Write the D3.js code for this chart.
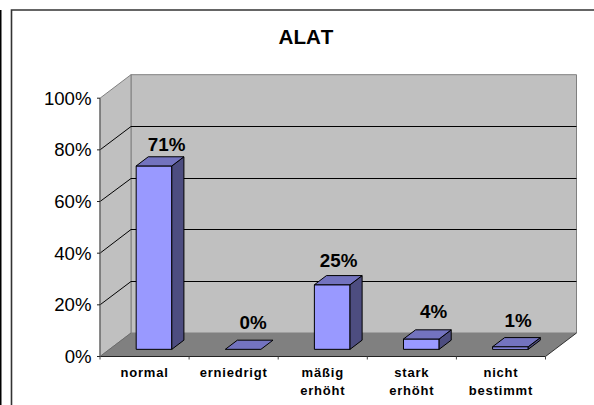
<!DOCTYPE html>
<html>
<head>
<meta charset="utf-8">
<script src="https://cdnjs.cloudflare.com/ajax/libs/d3/7.8.5/d3.min.js"></script>
<style>
html,body{margin:0;padding:0;background:#fff;overflow:hidden}
text{font-family:"Liberation Sans",Arial,sans-serif;fill:#000}
</style>
</head>
<body>
<script>
// ALAT lab results as a 3D-style column chart
const categories = [["normal"],["erniedrigt"],["mäßig","erhöht"],["stark","erhöht"],["nicht","bestimmt"]];
const values = [71,0,25,4,1];
const tickValues = [0,20,40,60,80,100];
const title = "ALAT";

const W = 594, H = 405;
const svg = d3.select("body").append("svg").attr("width",W).attr("height",H).style("display","block");

// Front plane scales; depth is applied as an oblique offset
const x = d3.scaleBand().domain(d3.range(categories.length)).range([100,545.5]).paddingInner(0).paddingOuter(0);
const y = d3.scaleLinear().domain([0,100]).range([356.5,98.2]);
const depthX = 31, depthY = -23.5;
const barWidth = x.bandwidth()*0.4;
const bar0 = 0.305, bar1 = 0.695;
const pt = (px,py,d=0) => [px+depthX*d, py+depthY*d];
const poly = pts => "M"+pts.map(p=>p.join(",")).join("L")+"Z";
const crisp = v => Math.floor(v)+0.5;

// Hand-placed value labels sit a little off the column centre
const labelShift = [[0.5,0.9],[-2,-4.4],[-5.7,-1.8],[0.3,-6],[-4.4,-4.5]];

// Page rule and chart frame
svg.append("rect").attr("x",0).attr("y",10).attr("width",1.5).attr("height",H-10).attr("fill","#000");
svg.append("path").attr("d",`M11.5,${H}V10H${W}`).attr("fill","none").attr("stroke","#333").attr("stroke-width",1.6);

const xL = x.range()[0], xR = x.range()[1], y0 = y(0), y1 = y(100);

// Walls and floor
svg.append("path").attr("d",poly([pt(xL,y0,1),pt(xR,y0,1),pt(xR,y1,1),pt(xL,y1,1)]))
  .attr("fill","#c0c0c0").attr("stroke","#808080").attr("stroke-width",1);
svg.append("path").attr("d",poly([pt(xL,y0),pt(xL,y0,1),pt(xL,y1,1),pt(xL,y1)]))
  .attr("fill","#c0c0c0").attr("stroke","#808080").attr("stroke-width",1);
svg.append("path").attr("d",poly([pt(xL,y0),pt(xR,y0),pt(xR,y0,1),pt(xL,y0,1)]))
  .attr("fill","#808080").attr("stroke","none");

// Gridlines across side and back walls
tickValues.filter(t=>t>0&&t<100).forEach(t=>{
  const a = pt(xL,y(t)), b = pt(xL,y(t),1), c = pt(xR,y(t),1);
  const by = crisp(b[1]);
  svg.append("path").attr("d",`M${a}L${b[0]},${by}L${c[0]},${by}`).attr("fill","none").attr("stroke","#000").attr("stroke-width",1);
});

// Axis lines
svg.append("path").attr("d",`M${xL},${y1}V${y0}`).attr("stroke","#666").attr("stroke-width",1.2).attr("fill","none");
svg.append("path").attr("d",`M${xL},${y0}H${xR}`).attr("stroke","#222").attr("stroke-width",1).attr("fill","none");
svg.append("path").attr("d",`M${pt(xL,y0)}L${pt(xL,y0,1)}`).attr("stroke","#666").attr("stroke-width",0.8);
svg.append("path").attr("d",`M${pt(xR,y0)}L${pt(xR,y0,1)}`).attr("stroke","#222").attr("stroke-width",0.9);

// Y axis ticks and labels
tickValues.forEach(t=>{
  svg.append("line").attr("x1",xL-3).attr("x2",xL).attr("y1",y(t)).attr("y2",y(t)).attr("stroke","#222").attr("stroke-width",1);
  svg.append("text").attr("x",91.5).attr("y",y(t)+6.6).attr("text-anchor","end")
    .attr("font-size",18.6).attr("fill","#111").text(t+"%");
});

// X axis ticks and labels
d3.range(categories.length+1).forEach(i=>{
  const tx = xL + i*x.bandwidth();
  svg.append("line").attr("x1",tx).attr("x2",tx).attr("y1",y0).attr("y2",y0+3).attr("stroke","#444").attr("stroke-width",1);
});
categories.forEach((lines,i)=>{
  lines.forEach((s,j)=>{
    svg.append("text").attr("x",x(i)+x.bandwidth()/2).attr("y",376.8+j*18)
      .attr("text-anchor","middle").attr("font-size",13).attr("font-weight","bold")
      .attr("letter-spacing",0.8).attr("fill","#222").text(s);
  });
});

// Columns with front, top and side faces
values.forEach((v,i)=>{
  const l = x(i)+(x.bandwidth()-barWidth)/2, r = l+barWidth;
  const g = svg.append("g").attr("stroke","#000").attr("stroke-width",1).attr("stroke-linejoin","round");
  const yb = y(0), yt = y(v);
  if (v>0) g.append("path").attr("d",poly([pt(l,yb,bar0),pt(r,yb,bar0),pt(r,yt,bar0),pt(l,yt,bar0)])).attr("fill","#9999ff");
  if (v>0) g.append("path").attr("d",poly([pt(r,yb,bar0),pt(r,yb,bar1),pt(r,yt,bar1),pt(r,yt,bar0)])).attr("fill","#4d4d80");
  g.append("path").attr("d",poly([pt(l,yt,bar0),pt(r,yt,bar0),pt(r,yt,bar1),pt(l,yt,bar1)])).attr("fill","#7373bf");
  // Value label above the column
  const top = pt((l+r)/2,yt,bar1);
  svg.append("text").attr("x",top[0]+labelShift[i][0]).attr("y",top[1]-6.3+labelShift[i][1]).attr("text-anchor","middle")
    .attr("font-size",18.8).attr("font-weight","bold").attr("fill","#111").text(v+"%");
});

// Chart title
svg.append("text").attr("x",306).attr("y",44).attr("text-anchor","middle")
  .attr("font-size",20.6).attr("font-weight","bold").style("font-kerning","none").text(title);
</script>
</body>
</html>
